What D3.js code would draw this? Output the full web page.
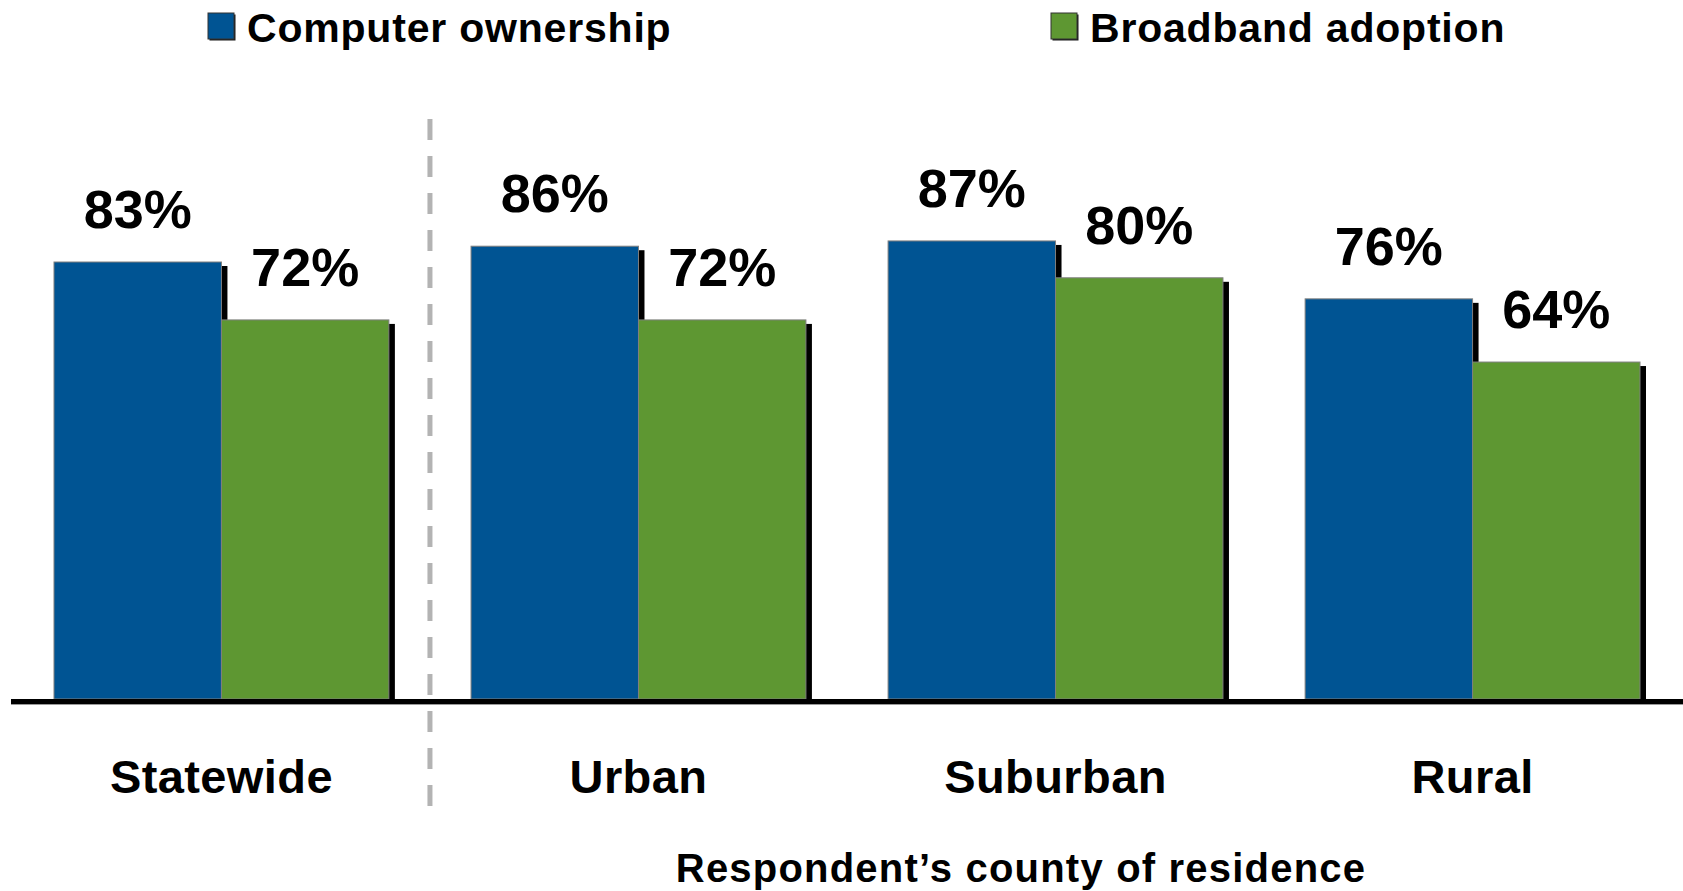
<!DOCTYPE html>
<html>
<head>
<meta charset="utf-8">
<script src="https://cdn.jsdelivr.net/npm/d3@7"></script>
<style>
  html, body { margin: 0; padding: 0; background: #fff; }
  svg { display: block; font-family: "Liberation Sans", Arial, sans-serif; }
</style>
</head>
<body>
<svg id="chart" width="1683" height="891"></svg>
<script>
const categories = ["Statewide", "Urban", "Suburban", "Rural"];
const seriesNames = ["Computer ownership", "Broadband adoption"];
const computerOwnership = [83, 86, 87, 76];
const broadbandAdoption = [72, 72, 80, 64];
const seriesColors = ["#005493", "#5e9732"];
const axisTitle = "Respondent\u2019s county of residence";

const data = categories.map((c, i) => ({
  category: c,
  values: [computerOwnership[i], broadbandAdoption[i]]
}));

const svg = d3.select("#chart");
const W = 1683, H = 891;
const baseY = 699;

const x = d3.scaleBand().domain(categories).range([54, 1640]).paddingInner(0.197).paddingOuter(0);
const xi = d3.scaleBand().domain(d3.range(seriesNames.length)).range([0, x.bandwidth()]).padding(0);
const y = d3.scaleLinear().domain([0, 100]).range([baseY, 172.5]);

// dashed separator between Statewide and Urban
const sepX = x(categories[0]) + x.bandwidth() + (x.step() - x.bandwidth()) / 2;
svg.append("line")
  .attr("x1", sepX).attr("x2", sepX)
  .attr("y1", 119).attr("y2", 806)
  .attr("stroke", "#b3b3b3").attr("stroke-width", 5)
  .attr("stroke-dasharray", "21 16");

const groups = svg.append("g").selectAll("g").data(data).join("g")
  .attr("transform", d => `translate(${x(d.category)},0)`);

// shadows
groups.selectAll("rect.shadow").data(d => d.values.map((v, i) => ({v, i})))
  .join("rect").attr("class", "shadow")
  .attr("x", d => xi(d.i) + 6)
  .attr("y", d => y(d.v) + 4)
  .attr("width", xi.bandwidth())
  .attr("height", d => baseY - y(d.v))
  .attr("fill", "#000");

// bars
groups.selectAll("rect.bar").data(d => d.values.map((v, i) => ({v, i})))
  .join("rect").attr("class", "bar")
  .attr("x", d => xi(d.i))
  .attr("y", d => y(d.v))
  .attr("width", xi.bandwidth())
  .attr("height", d => baseY - y(d.v))
  .attr("fill", d => seriesColors[d.i])
  .attr("stroke", "#7f7f7f").attr("stroke-width", 1);

// value labels
groups.selectAll("text.val").data(d => d.values.map((v, i) => ({v, i})))
  .join("text").attr("class", "val")
  .attr("x", d => xi(d.i) + xi.bandwidth() / 2)
  .attr("y", d => y(d.v) - 34)
  .attr("text-anchor", "middle")
  .attr("font-size", 54).attr("font-weight", "bold")
  .attr("fill", "#000")
  .text(d => d.v + "%");

// baseline
svg.append("line")
  .attr("x1", 11).attr("x2", W)
  .attr("y1", baseY + 2.5).attr("y2", baseY + 2.5)
  .attr("stroke", "#000").attr("stroke-width", 5);
svg.append("line")
  .attr("x1", 11).attr("x2", W)
  .attr("y1", baseY + 5.5).attr("y2", baseY + 5.5)
  .attr("stroke", "#9a9a9a").attr("stroke-width", 1);

// category labels via axis
const xAxis = d3.axisBottom(x).tickSize(0).tickPadding(0);
const axG = svg.append("g").attr("transform", `translate(0,${793})`).call(xAxis);
axG.select(".domain").remove();
axG.selectAll("text")
  .attr("dy", 0).attr("y", 0)
  .attr("font-size", 47).attr("font-weight", "bold")
  .attr("letter-spacing", 0.4)
  .attr("font-family", "Liberation Sans, Arial, sans-serif")
  .attr("fill", "#000");

// axis title
svg.append("text")
  .attr("x", 1021).attr("y", 882)
  .attr("text-anchor", "middle")
  .attr("font-size", 40).attr("font-weight", "bold")
  .attr("letter-spacing", 1.2)
  .attr("fill", "#000")
  .text(axisTitle);

// legend
const legendX = [208, 1051];
const leg = svg.append("g").selectAll("g").data(seriesNames).join("g")
  .attr("transform", (d, i) => `translate(${legendX[i]},13)`);
leg.append("rect").attr("x", 1.5).attr("y", 1.5).attr("width", 26).attr("height", 26)
  .attr("fill", "#1a1a1a");
leg.append("rect").attr("x", 0).attr("y", 0).attr("width", 26).attr("height", 26)
  .attr("fill", (d, i) => seriesColors[i]).attr("stroke", "#333").attr("stroke-width", 1);
leg.append("text")
  .attr("x", 39).attr("y", 28.5)
  .attr("font-size", 41).attr("font-weight", "bold")
  .attr("letter-spacing", 0.8)
  .attr("fill", "#000")
  .text(d => d);
</script>
</body>
</html>
